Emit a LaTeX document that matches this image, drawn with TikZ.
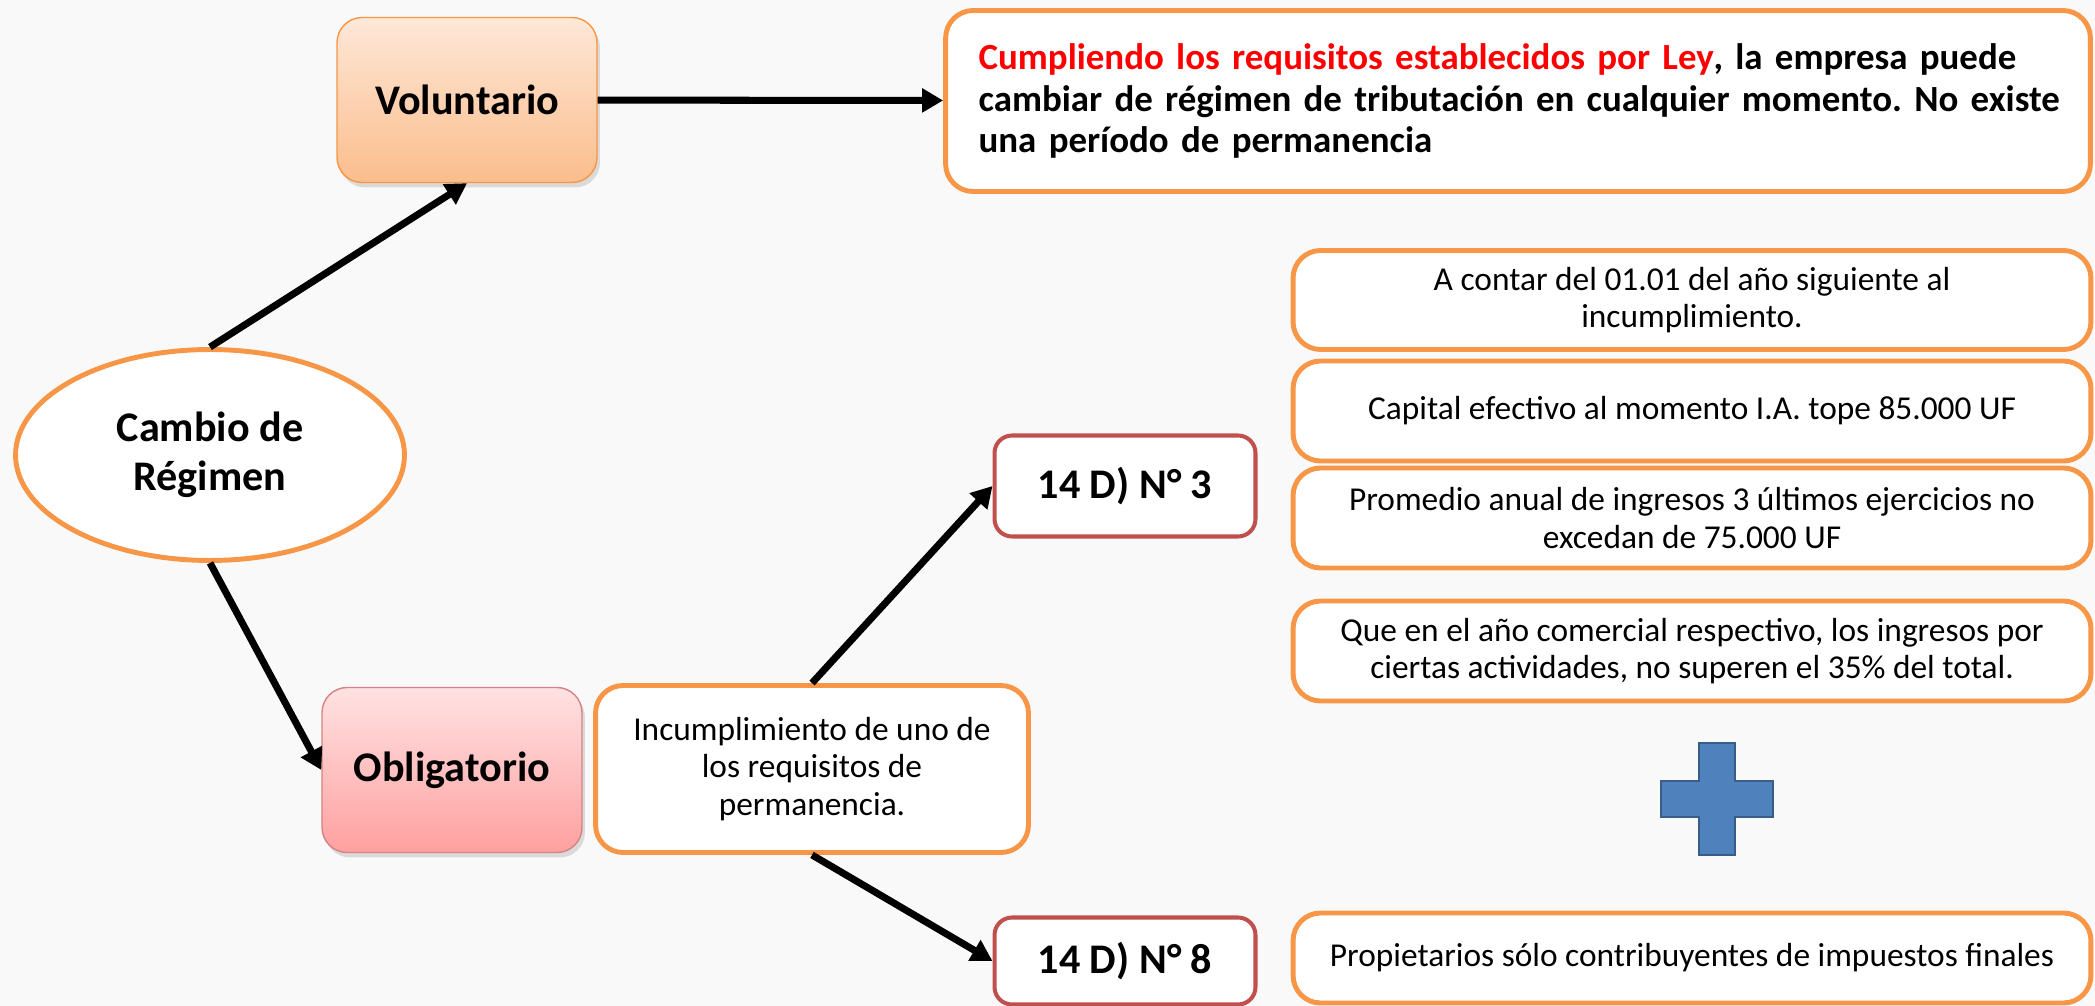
\documentclass[tikz,border=0pt]{standalone}
\usepackage{fontspec}
\setmainfont{Carlito}
\usetikzlibrary{arrows.meta,shapes.geometric,shadows}
\frenchspacing

\definecolor{bgcol}{HTML}{F9F9F9}
\definecolor{orangeline}{HTML}{F79646}
\definecolor{redline}{HTML}{C0504D}
\definecolor{peachtop}{HTML}{FDE8D8}
\definecolor{peachbot}{HTML}{FBBD8C}
\definecolor{pinktop}{HTML}{FFE2E2}
\definecolor{pinkbot}{HTML}{FFA0A0}
\definecolor{plusfill}{HTML}{4F81BD}
\definecolor{plusline}{HTML}{385D8A}

\begin{document}
\begin{tikzpicture}[x=0.02cm, y=-0.02cm, >={Triangle[length=0.42cm, width=0.46cm]},
                every node/.style={align=center, inner sep=0pt, font=\fontsize{19}{21.5}\selectfont},
                every edge/.style={draw, line width=4pt, black},
                mainbox/.style={rounded corners=0.5cm, minimum width=5.2cm, minimum height=3.3cm,
                                font=\fontsize{24}{28}\selectfont\bfseries,
                                drop shadow={opacity=0.25, shadow xshift=0.06cm, shadow yshift=-0.1cm}},
                orangebox/.style={draw=orangeline, line width=2.8pt, fill=white, rounded corners=0.55cm},
                redbox/.style={draw=redline, line width=2.3pt, fill=white, rounded corners=0.35cm,
                               minimum width=5.22cm, font=\fontsize{24}{28}\selectfont\bfseries}]

                % Background
                \fill[bgcol] (0,0) rectangle (2095,1006);
                \useasboundingbox (0,0) rectangle (2095,1006);

                % Define nodes
                \node[shape=ellipse, draw=orangeline, line width=2.8pt, fill=white, minimum width=7.78cm, minimum height=4.22cm,
                      font=\fontsize{24}{28}\selectfont\bfseries] (cam) at (210,455) {Cambio de\\Régimen}; % Root node
                \node[mainbox, draw=orangeline, line width=0.8pt, top color=peachtop, bottom color=peachbot] (vol) at (467,100) {Voluntario}; % Upper branch
                \node[mainbox, draw=redline!70, line width=0.8pt, top color=pinktop, bottom color=pinkbot] (obl) at (452,770) {Obligatorio}; % Lower branch
                \node[orangebox, minimum width=22.9cm, minimum height=3.62cm, text width=21.58cm, align=left,
                      font=\fontsize{21}{23.8}\selectfont\bfseries] (ley) at (1518,101)
                      {\mbox{\textcolor{red}{Cumpliendo los requisitos establecidos por Ley}, la empresa puede}\\
                       \mbox{cambiar de régimen de tributación en cualquier momento. No existe}\\
                       \mbox{una período de permanencia}}; % Note on voluntario
                \node[orangebox, minimum width=8.66cm, minimum height=3.34cm] (inc) at (812,769)
                      {Incumplimiento de uno de\\los requisitos de\\permanencia.}; % Cause of obligatorio
                \node[redbox, minimum height=2.02cm] (n3) at (1125,486) {14 D) N° 3}; % Article 3
                \node[redbox, minimum height=1.74cm] (n8) at (1125,961) {14 D) N° 8}; % Article 8

                % Requirements
                \node[orangebox, minimum width=15.96cm, minimum height=1.98cm] (reqa) at (1692,300)
                      {A contar del 01.01 del año siguiente al\\incumplimiento.};
                \node[orangebox, minimum width=15.96cm, minimum height=2cm] (reqb) at (1692,411)
                      {Capital efectivo al momento I.A. tope 85.000 UF};
                \node[orangebox, minimum width=15.96cm, minimum height=2cm] (reqc) at (1692,518)
                      {Promedio anual de ingresos 3 últimos ejercicios no\\excedan de 75.000 UF};
                \node[orangebox, minimum width=15.96cm, minimum height=2cm] (reqd) at (1692,651)
                      {Que en el año comercial respectivo, los ingresos por\\ciertas actividades, no superen el 35\% del total.};
                \node[orangebox, minimum width=15.96cm, minimum height=1.8cm] (reqe) at (1692,958)
                      {Propietarios sólo contribuyentes de impuestos finales};

                % Plus sign
                \filldraw[fill=plusfill, draw=plusline, line width=1.2pt]
                      (1699,743) -- (1735,743) -- (1735,781) -- (1773,781) -- (1773,817) -- (1735,817)
                      -- (1735,855) -- (1699,855) -- (1699,817) -- (1661,817) -- (1661,781) -- (1699,781) -- cycle;

                % Define edges
                \path [->](cam.north) edge (vol.south);
                \path [->](cam.south) edge (obl.west);
                \path [->](vol) edge (ley);
                \path [->](inc.north) edge (n3.west);
                \path [->](inc.south) edge (n8.west);
                \end{tikzpicture}
\end{document}
